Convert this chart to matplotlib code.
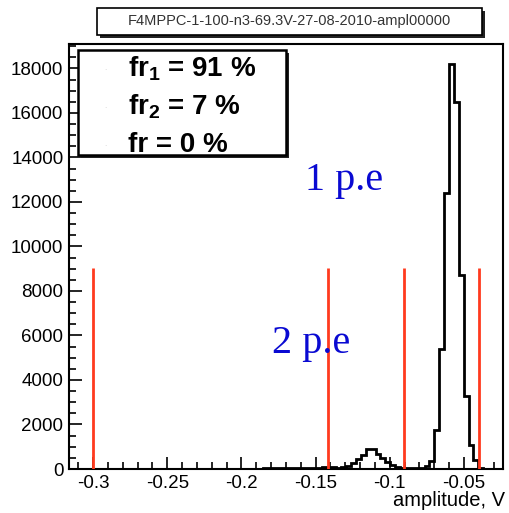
import numpy as np
import matplotlib.pyplot as plt
from matplotlib.patches import Rectangle
from matplotlib.ticker import MultipleLocator

plt.rcParams['font.family'] = ['Liberation Sans', 'DejaVu Sans']
plt.rcParams['mathtext.fontset'] = 'custom'
plt.rcParams['mathtext.rm'] = 'Liberation Sans:bold'
plt.rcParams['mathtext.default'] = 'rm'

# histogram: first bin edge, bin width, counts
bin_start = -0.1855
bin_width = 0.0033
counts = [60, 55, 60, 65, 60, 55, 60, 65, 60, 60, 65, 60, 70, 60, 70, 65,
          80, 150, 280, 450, 650, 880, 880, 680, 480, 320, 170, 80,
          60, 60, 55, 60, 60, 140, 350, 1750, 5400, 12400, 18200, 16500,
          8700, 3300, 1100, 400, 30]

# red cut lines
cut_x = [-0.3, -0.1415, -0.0905, -0.04]
cut_top = 9050

title = 'F4MPPC-1-100-n3-69.3V-27-08-2010-ampl00000'
fractions = ['fr$_1$ = 91 %', 'fr$_2$ = 7 %', 'fr = 0 %']
W, H = 510, 513

fig = plt.figure(figsize=(W / 100, H / 100), dpi=100)
ax = fig.add_axes([69 / W, 1 - 469 / H, (503 - 69) / W, (469 - 44) / H])

edges = bin_start + bin_width * np.arange(len(counts) + 1)
ax.stairs(counts, edges, color='black', lw=2, baseline=0)
ax.vlines(cut_x, 0, cut_top, color='#ff3a1e', lw=2, zorder=3)

ax.set_xlim(-0.3162, -0.0237)
ax.set_ylim(0, 19100)
ax.xaxis.set_major_locator(MultipleLocator(0.05))
ax.xaxis.set_minor_locator(MultipleLocator(0.01))
ax.yaxis.set_major_locator(MultipleLocator(2000))
ax.yaxis.set_minor_locator(MultipleLocator(500))
ax.set_xticks([-0.3, -0.25, -0.2, -0.15, -0.1, -0.05])
ax.set_xticklabels(['-0.3', '-0.25', '-0.2', '-0.15', '-0.1', '-0.05'])
ax.tick_params(which='both', direction='in', top=False, right=False,
               labelsize=13.5, width=1.2, pad=4)
ax.tick_params(which='major', length=9)
ax.tick_params(which='minor', length=5)
for s in ax.spines.values():
    s.set_linewidth(1.5)

fig.text(505 / W, 1 - 500 / H, 'amplitude, V', ha='right', va='center',
         fontsize=14.5)

# blue annotations
ax.text(-0.1569, 12550, '1 p.e', family=['Liberation Serif'], fontsize=29,
        color='#0a0ad2')
ax.text(-0.1792, 5210, '2 p.e', family=['Liberation Serif'], fontsize=29,
        color='#0a0ad2')


def box(x0, y0, x1, y1, lw):
    # pixel box with a ROOT-like shadow
    fig.patches.append(Rectangle((x0 / W + 3 / W, 1 - y1 / H - 3 / H),
                                 (x1 - x0) / W, (y1 - y0) / H,
                                 transform=fig.transFigure, facecolor='#222222',
                                 edgecolor='none', zorder=4))
    fig.patches.append(Rectangle((x0 / W, 1 - y1 / H), (x1 - x0) / W, (y1 - y0) / H,
                                 transform=fig.transFigure, facecolor='white',
                                 edgecolor='black', lw=lw, zorder=5))


box(97, 8, 482, 35, 1.2)
fig.text(289 / W, 1 - 21.5 / H, title, ha='center', va='center', fontsize=10.5,
         color='#333333', zorder=6)

box(78, 50, 286, 155, 1.8)
for i, t in enumerate(fractions):
    y = 1 - (69 + 38 * i) / H
    fig.text(105 / W, y, '.', ha='center', va='center', fontsize=6,
             color='#cccccc', zorder=6)
    fig.text(128 / W, y, t, ha='left', va='center', fontsize=20,
             fontweight='bold', zorder=6)

fig.savefig('out.png', dpi=100)
